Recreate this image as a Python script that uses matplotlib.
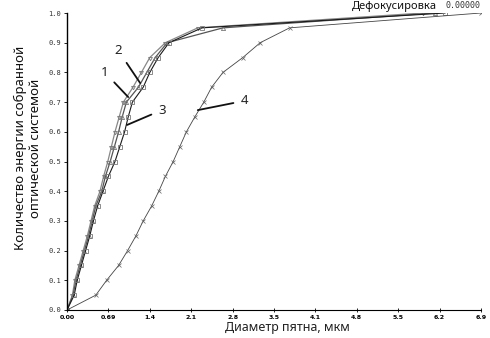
# -*- coding: utf-8 -*-
import matplotlib
matplotlib.use('Agg')
import matplotlib.pyplot as plt

# energy levels (fraction of collected energy)
levels = [0.0, 0.05, 0.10, 0.15, 0.20, 0.25, 0.30, 0.35, 0.40, 0.45, 0.50,
          0.55, 0.60, 0.65, 0.70, 0.75, 0.80, 0.85, 0.90, 0.95, 1.0]

# spot diameter, um, for each curve
d1 = [0.0, 0.09, 0.13, 0.20, 0.27, 0.34, 0.40, 0.46, 0.55, 0.61, 0.68,
      0.74, 0.80, 0.87, 0.94, 1.10, 1.24, 1.38, 1.64, 2.18, 5.93]
d2 = [0.0, 0.10, 0.15, 0.22, 0.29, 0.36, 0.42, 0.48, 0.58, 0.64, 0.72,
      0.79, 0.86, 0.92, 0.99, 1.19, 1.33, 1.47, 1.67, 2.60, 6.13]
d3 = [0.0, 0.12, 0.17, 0.24, 0.31, 0.38, 0.44, 0.51, 0.60, 0.69, 0.80,
      0.88, 0.96, 1.02, 1.09, 1.27, 1.38, 1.52, 1.70, 2.25, 6.30]
d4 = [0.0, 0.48, 0.66, 0.86, 1.01, 1.15, 1.27, 1.41, 1.53, 1.64, 1.77,
      1.88, 1.99, 2.13, 2.28, 2.41, 2.60, 2.93, 3.22, 3.71, 6.90]

xticks = [0.0, 0.69, 1.38, 2.07, 2.76, 3.45, 4.14, 4.83, 5.52, 6.21, 6.9]
xlabels = ['0.00', '0.69', '1.4', '2.1', '2.8', '3.5', '4.1', '4.8', '5.5', '6.2', '6.9']
yticks = [0.0, 0.1, 0.2, 0.3, 0.4, 0.5, 0.6, 0.7, 0.8, 0.9, 1.0]

fig = plt.figure(figsize=(4.9, 3.38), dpi=100)
ax = fig.add_axes([67/490, 28/338, 414/490, 297/338])

ax.plot(d1, levels, color='#888888', lw=0.9, marker=(3, 0, 180), ms=3.2,
        mfc='none', mec='#777777', mew=0.6)
ax.plot(d2, levels, color='#555555', lw=0.9, marker='^', ms=3.0,
        mfc='none', mec='#777777', mew=0.6)
ax.plot(d3, levels, color='#1a1a1a', lw=0.8, marker='s', ms=2.6,
        mfc='none', mec='#777777', mew=0.6)
ax.plot(d4, levels, color='#444444', lw=0.6, marker='x', ms=2.6,
        mec='#666666', mew=0.5)

ax.set_xlim(0, 6.9)
ax.set_ylim(0, 1.0)
ax.set_xticks(xticks)
ax.set_xticklabels(xlabels, fontsize=4.5, fontweight='bold', family='DejaVu Sans')
ax.set_yticks(yticks)
ax.set_yticklabels(['%.1f' % v for v in yticks], fontsize=5, family='DejaVu Sans Mono',
                   color='#333333')
ax.tick_params(axis='x', direction='inout', length=3, width=0.6, pad=2)
ax.tick_params(axis='y', direction='out', length=2.5, width=0.6, pad=2)
for s in ['top', 'right']:
    ax.spines[s].set_visible(False)
ax.spines['left'].set_linewidth(1.0)
ax.spines['bottom'].set_linewidth(0.8)

# curve numbers
lab = dict(fontsize=9.5, family='Noto Sans', color='#222222')
arr = dict(arrowstyle='-', lw=1.3, color='#111111', shrinkA=3, shrinkB=0)
ax.annotate('1', xy=(1.02, 0.717), xytext=(0.63, 0.80), ha='center', va='center',
            arrowprops=arr, **lab)
ax.annotate('2', xy=(1.22, 0.764), xytext=(0.85, 0.875), ha='center', va='center',
            arrowprops=arr, **lab)
ax.annotate('3', xy=(1.00, 0.623), xytext=(1.58, 0.673), ha='center', va='center',
            arrowprops=arr, **lab)
ax.annotate('4', xy=(2.18, 0.673), xytext=(2.95, 0.704), ha='center', va='center',
            arrowprops=arr, **lab)

fig.text(437/490, 1 - 6/338, 'Дефокусировка', ha='right', va='center',
         fontsize=8, fontweight='bold', family='Noto Sans', color='#111111')
fig.text(445/490, 1 - 6/338, '0.00000', ha='left', va='center',
         fontsize=6, family='DejaVu Sans Mono', color='#333333')

fig.text(28/490, 1 - 148/338, 'Количество энергии собранной\nоптической системой',
         rotation=90, ha='center', va='center', fontsize=9.5, family='Noto Sans',
         linespacing=1.2, color='#111111')
fig.text(287/490, 1 - 327/338, 'Диаметр пятна, мкм', ha='center', va='center',
         fontsize=9, fontweight='bold', family='Noto Sans', color='#222222')

fig.savefig('out.png', dpi=100)
